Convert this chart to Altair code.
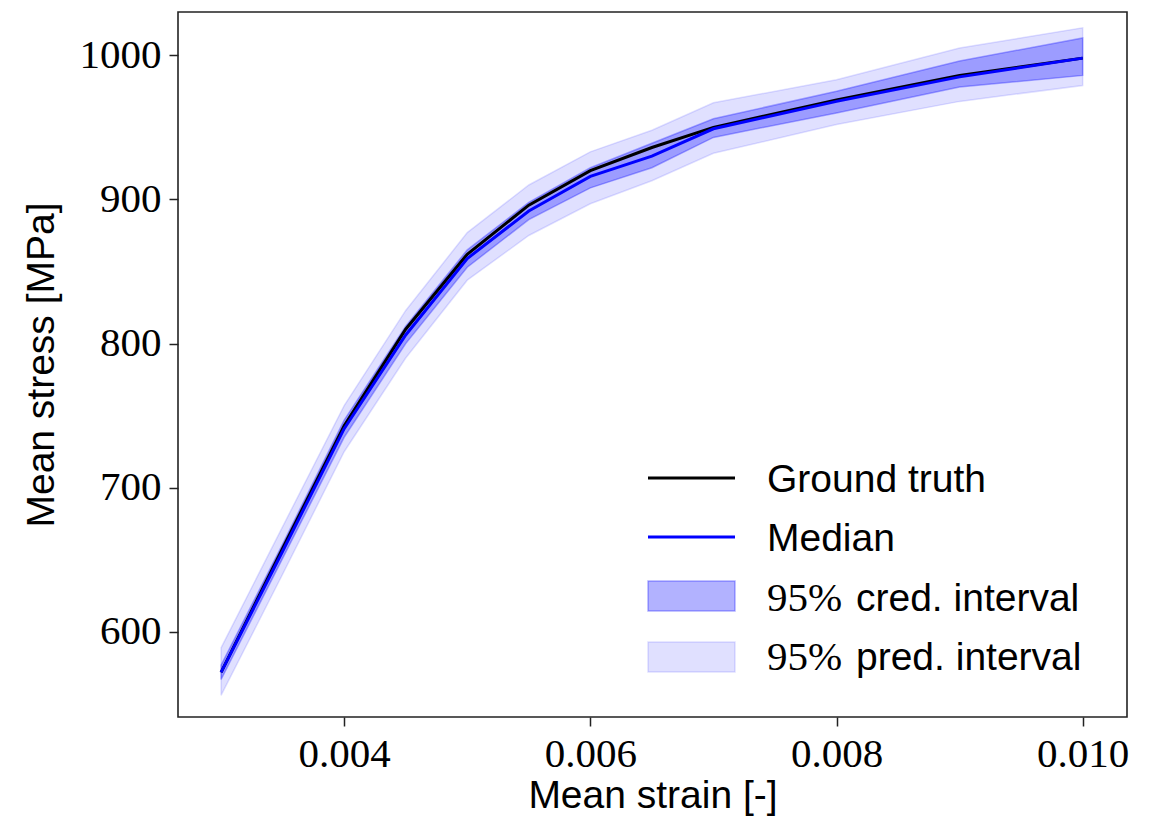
import altair as alt
import pandas as pd

# ---- data ----
strain = [0.003, 0.0035, 0.004, 0.0045, 0.005, 0.0055, 0.006, 0.0065, 0.007, 0.008, 0.009, 0.010]
truth = [572, 658, 743, 810, 862, 896, 920, 936, 950, 969, 986, 998]
median = [572, 656, 741, 806, 859, 892, 916, 930, 949, 968, 985, 998]
cred_lo = [567, 651, 735, 800, 853, 886, 908, 922, 943, 960, 978, 986]
cred_hi = [577, 661, 747, 812, 865, 898, 922, 939, 956, 975, 996, 1012]
pred_lo = [556, 640, 725, 790, 844, 875, 897, 913, 932, 952, 968, 979]
pred_hi = [589, 673, 757, 823, 877, 910, 933, 948, 967, 983, 1005, 1019]

x_ticks = [0.004, 0.006, 0.008, 0.010]
y_ticks = [600, 700, 800, 900, 1000]

legend_labels = ["Ground truth", "Median", "cred. interval", "pred. interval"]
legend_prefix = "95%"

df = pd.DataFrame(dict(strain=strain, truth=truth, median=median,
                       cred_lo=cred_lo, cred_hi=cred_hi,
                       pred_lo=pred_lo, pred_hi=pred_hi))

SERIF = "Liberation Serif"
SANS = "Liberation Sans"
FS_LAB = 41
FS = 39

xenc = alt.X("strain:Q",
             scale=alt.Scale(domain=[0.00265, 0.01036], nice=False, zero=False),
             axis=alt.Axis(values=x_ticks, format=".3f", title="Mean strain [-]",
                           titlePadding=2))
yscale = alt.Scale(domain=[541, 1030], nice=False, zero=False)
yaxis = alt.Axis(values=y_ticks, format="d", title="Mean stress [MPa]", titlePadding=18)

base = alt.Chart(df)

pred = base.mark_area(fill="blue", fillOpacity=0.12, stroke="blue",
                      strokeOpacity=0.12, strokeWidth=1.5).encode(
    x=xenc, y=alt.Y("pred_lo:Q", scale=yscale, axis=yaxis), y2="pred_hi:Q")
cred = base.mark_area(fill="blue", fillOpacity=0.3, stroke="blue",
                      strokeOpacity=0.3, strokeWidth=1.5).encode(
    x=xenc, y=alt.Y("cred_lo:Q", scale=yscale, axis=yaxis), y2="cred_hi:Q")
gt = base.mark_line(color="black", strokeWidth=3).encode(
    x=xenc, y=alt.Y("truth:Q", scale=yscale, axis=yaxis))
med = base.mark_line(color="blue", strokeWidth=3).encode(
    x=xenc, y=alt.Y("median:Q", scale=yscale, axis=yaxis))

layers = [pred, cred, gt, med]

# ---- legend (drawn inside the plot, lower right) ----
LX0, LX1, TX = 470, 557, 589
line_y = [466, 525]
rect_y = [(569, 599), (630, 660)]
text_base = [480, 539, 599, 658]
line_cols = ["black", "blue"]
rect_alpha = [0.3, 0.12]

one = pd.DataFrame({"k": [0]})
for i in range(2):
    layers.append(alt.Chart(one).mark_rule(color=line_cols[i], strokeWidth=3).encode(
        x=alt.value(LX0), x2=alt.value(LX1), y=alt.value(line_y[i])))
    layers.append(alt.Chart(pd.DataFrame({"t": [legend_labels[i]]})).mark_text(
        font=SANS, fontSize=FS, align="left", baseline="alphabetic", color="black").encode(
        x=alt.value(TX), y=alt.value(text_base[i]), text="t:N"))
for j in range(2):
    y0, y1 = rect_y[j]
    layers.append(alt.Chart(one).mark_rect(fill="blue", fillOpacity=rect_alpha[j],
                                           stroke="blue", strokeOpacity=rect_alpha[j],
                                           strokeWidth=1.5).encode(
        x=alt.value(LX0), x2=alt.value(LX1), y=alt.value(y0), y2=alt.value(y1)))
    layers.append(alt.Chart(pd.DataFrame({"t": [legend_prefix]})).mark_text(
        font=SERIF, fontSize=FS_LAB, align="left", baseline="alphabetic", color="black").encode(
        x=alt.value(TX), y=alt.value(text_base[2 + j]), text="t:N"))
    layers.append(alt.Chart(pd.DataFrame({"t": [legend_labels[2 + j]]})).mark_text(
        font=SANS, fontSize=FS, align="left", baseline="alphabetic", color="black").encode(
        x=alt.value(TX + 89), y=alt.value(text_base[2 + j]), text="t:N"))

chart = alt.layer(*layers).properties(
    width=949, height=705,
    autosize=alt.AutoSizeParams(type="none"),
    padding={"left": 170, "top": 4, "right": 18, "bottom": 100},
    background="white",
).configure_view(
    stroke="#222222", strokeWidth=1.6
).configure_axis(
    grid=False, domain=False,
    labelFont=SERIF, labelFontSize=FS_LAB, labelColor="black", labelPadding=8,
    titleFont=SANS, titleFontSize=FS, titleFontWeight="normal", titleColor="black",
    tickColor="#222222", tickSize=9, tickWidth=1.5,
)

chart.save("out.html", embed_options={"renderer": "svg", "actions": False})
